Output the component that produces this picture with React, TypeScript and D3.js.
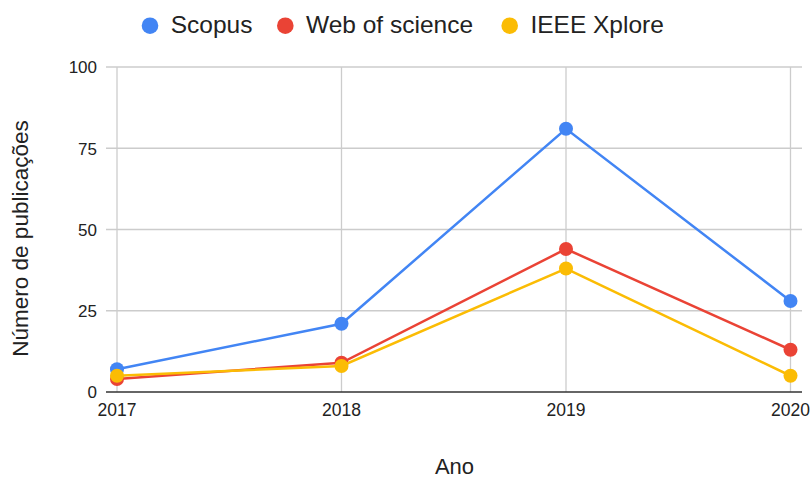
import React, {useEffect, useRef} from 'react';
import * as d3 from 'd3';

// chart data
const years = ['2017', '2018', '2019', '2020'];
const scopus = [7, 21, 81, 28];
const webOfScience = [4, 9, 44, 13];
const ieeeXplore = [5, 8, 38, 5];
const yTicks = [0, 25, 50, 75, 100];

const seriesNames = ['Scopus', 'Web of science', 'IEEE Xplore'];
const seriesColors = ['#4285F4', '#EA4335', '#FBBC04'];

const FONT = "'Liberation Sans', Arial, sans-serif";

const App: React.FC = () => {
  const svgRef = useRef<SVGSVGElement>(null);

  useEffect(() => {
    const width = 810;
    const height = 478;
    const svg = d3.select(svgRef.current);
    svg.selectAll('*').remove();

    const series = [scopus, webOfScience, ieeeXplore].map((vals, i) => ({
      name: seriesNames[i],
      color: seriesColors[i],
      values: vals,
    }));

    // x positions of the categories, y value scale
    const x = d3.scalePoint<string>().domain(years).range([117, 790.5]);
    const y = d3.scaleLinear().domain([0, 100]).range([392, 67]);
    const gridLeft = 106;
    const gridRight = 802;

    // horizontal gridlines
    svg
      .append('g')
      .selectAll('line')
      .data(yTicks.filter((t) => t !== 0))
      .enter()
      .append('line')
      .attr('x1', gridLeft)
      .attr('x2', gridRight)
      .attr('y1', (d) => y(d))
      .attr('y2', (d) => y(d))
      .attr('stroke', '#cccccc')
      .attr('stroke-width', 1.3);

    // vertical gridlines
    svg
      .append('g')
      .selectAll('line')
      .data(years)
      .enter()
      .append('line')
      .attr('x1', (d) => x(d)!)
      .attr('x2', (d) => x(d)!)
      .attr('y1', y(100))
      .attr('y2', y(0))
      .attr('stroke', '#cccccc')
      .attr('stroke-width', 1.3);

    // baseline
    svg
      .append('line')
      .attr('x1', gridLeft)
      .attr('x2', gridRight)
      .attr('y1', y(0))
      .attr('y2', y(0))
      .attr('stroke', '#333333')
      .attr('stroke-width', 1.3);

    // y tick labels
    svg
      .append('g')
      .selectAll('text')
      .data(yTicks)
      .enter()
      .append('text')
      .attr('x', 97)
      .attr('y', (d) => y(d) + 6.3)
      .attr('text-anchor', 'end')
      .attr('font-family', FONT)
      .attr('font-size', 17)
      .attr('fill', '#222')
      .text((d) => d);

    // x tick labels
    svg
      .append('g')
      .selectAll('text')
      .data(years)
      .enter()
      .append('text')
      .attr('x', (d) => x(d)!)
      .attr('y', 416)
      .attr('text-anchor', 'middle')
      .attr('font-family', FONT)
      .attr('font-size', 17.5)
      .attr('fill', '#222')
      .text((d) => d);

    // lines + points
    const line = d3
      .line<number>()
      .x((_, i) => x(years[i])!)
      .y((d) => y(d));

    series.forEach((s) => {
      const g = svg.append('g');
      g.append('path')
        .datum(s.values)
        .attr('d', line)
        .attr('fill', 'none')
        .attr('stroke', s.color)
        .attr('stroke-width', 2.5);
      g.selectAll('circle')
        .data(s.values)
        .enter()
        .append('circle')
        .attr('cx', (_, i) => x(years[i])!)
        .attr('cy', (d) => y(d))
        .attr('r', 7)
        .attr('fill', s.color);
    });

    // axis titles
    svg
      .append('text')
      .attr('x', 454.5)
      .attr('y', 473.5)
      .attr('text-anchor', 'middle')
      .attr('font-family', FONT)
      .attr('font-size', 22)
      .attr('fill', '#222')
      .text('Ano');

    svg
      .append('text')
      .attr('transform', 'translate(28,238.5) rotate(-90)')
      .attr('text-anchor', 'middle')
      .attr('font-family', FONT)
      .attr('font-size', 22.5)
      .attr('fill', '#222')
      .text('Número de publicações');

    // legend
    const legendX = [150, 285.3, 509.7];
    const legend = svg
      .append('g')
      .selectAll('g')
      .data(series)
      .enter()
      .append('g')
      .attr('transform', (_, i) => 'translate(' + legendX[i] + ',25.7)');
    legend.append('circle').attr('r', 8.3).attr('fill', (d) => d.color);
    legend
      .append('text')
      .attr('x', 20.7)
      .attr('y', 7.6)
      .attr('font-family', FONT)
      .attr('font-size', 24.5)
      .attr('fill', '#222')
      .text((d) => d.name);

    svg.attr('width', width).attr('height', height);
  }, []);

  return (
    <svg
      ref={svgRef}
      width={810}
      height={478}
      style={{position: 'absolute', left: 0, top: 0, background: '#fff'}}
    ></svg>
  );
};

export default App;
